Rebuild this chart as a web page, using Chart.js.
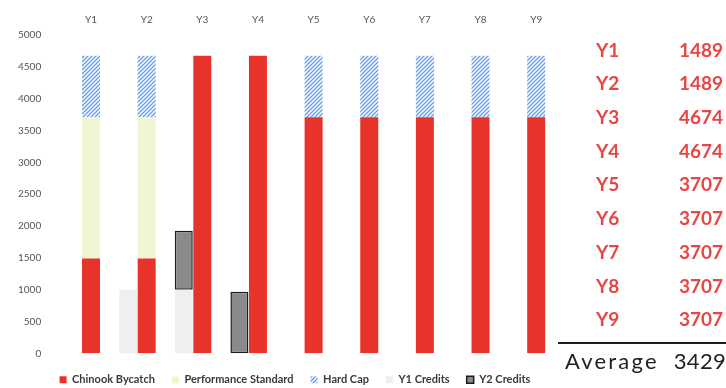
<!DOCTYPE html>
<html>
<head>
<meta charset="utf-8">
<script src="https://cdn.jsdelivr.net/npm/chart.js@4/dist/chart.umd.min.js"></script>
<style>
  html, body { margin: 0; padding: 0; background: #ffffff; }
  #wrap { width: 726px; height: 388px; position: relative; }
</style>
</head>
<body>
<div id="wrap"><canvas id="chart" width="726" height="388"></canvas></div>
<script>
// Years of the programme
const years = ['Y1', 'Y2', 'Y3', 'Y4', 'Y5', 'Y6', 'Y7', 'Y8', 'Y9'];
// Chinook bycatch per year
const bycatch = [1489, 1489, 4674, 4674, 3707, 3707, 3707, 3707, 3707];
// Room between bycatch and the performance standard
const perfStandard = [2218, 2218, null, null, null, null, null, null, null];
// Room between the performance standard and the hard cap
const hardCap = [967, 967, null, null, 967, 967, 967, 967, 967];
// Credits carried forward
const y1Credits = [null, 1000, 1000, null, null, null, null, null, null];
const y2Credits = [null, null, 925, 965, null, null, null, null, null];
// Value axis
const yMin = 0, yMax = 5000, yStep = 500;

const FONT = 'Lato, "Open Sans", sans-serif';

function hatchPattern() {
  const t = document.createElement('canvas');
  t.width = 4; t.height = 4;
  const g = t.getContext('2d');
  g.fillStyle = '#ffffff';
  g.fillRect(0, 0, 4, 4);
  g.strokeStyle = '#6e9edc';
  g.lineWidth = 1.4;
  g.beginPath();
  g.moveTo(0, 4); g.lineTo(4, 0);
  g.moveTo(-1, 1); g.lineTo(1, -1);
  g.moveTo(3, 5); g.lineTo(5, 3);
  g.stroke();
  return g.createPattern(t, 'repeat');
}
const hatch = hatchPattern();

// Keep the legend strip short so the plot reaches down to it
const legendStrip = {
  id: 'legendStrip',
  beforeUpdate(chart) {
    const lg = chart.legend;
    if (lg && !lg._stripFit) {
      const fit = lg.fit;
      lg.fit = function () { fit.call(this); this.height = 34.7; };
      lg._stripFit = true;
    }
  }
};

// Yearly bycatch table with its average, beside the plot
const yearTable = {
  id: 'yearTable',
  afterDraw(chart) {
    const ctx = chart.ctx;
    ctx.save();
    ctx.textBaseline = 'middle';
    ctx.font = 'bold 19px ' + FONT;
    ctx.fillStyle = '#e84545';
    years.forEach((y, i) => {
      const yy = 50.5 + i * 33.7;
      ctx.textAlign = 'left';
      ctx.fillText(y, 596, yy);
      ctx.textAlign = 'right';
      ctx.fillText(String(bycatch[i]), 723, yy);
    });
    ctx.strokeStyle = '#1e1e1e';
    ctx.lineWidth = 2;
    ctx.beginPath();
    ctx.moveTo(558, 343);
    ctx.lineTo(726, 343);
    ctx.stroke();
    const avg = Math.round(bycatch.reduce((a, b) => a + b, 0) / bycatch.length);
    ctx.fillStyle = '#222222';
    ctx.font = '22px ' + FONT;
    ctx.textBaseline = 'alphabetic';
    ctx.textAlign = 'left';
    if ('letterSpacing' in ctx) ctx.letterSpacing = '2.2px';
    ctx.fillText('Average', 565, 369);
    if ('letterSpacing' in ctx) ctx.letterSpacing = '0.3px';
    ctx.textAlign = 'right';
    ctx.fillText(String(avg), 726, 369);
    ctx.restore();
  }
};

const barOpts = { barPercentage: 0.97, categoryPercentage: 1.0, borderWidth: 0 };

new Chart(document.getElementById('chart'), {
  type: 'bar',
  data: {
    labels: years,
    datasets: [
      Object.assign({ label: 'Chinook Bycatch', data: bycatch, backgroundColor: '#e8332b', stack: 'main', order: 1 }, barOpts),
      Object.assign({ label: 'Performance Standard', data: perfStandard, backgroundColor: '#f0f6d2', stack: 'main', order: 1 }, barOpts),
      Object.assign({ label: 'Hard Cap', data: hardCap, backgroundColor: hatch, stack: 'main', order: 1 }, barOpts),
      Object.assign({ label: 'Y1 Credits', data: y1Credits, backgroundColor: '#efefef', stack: 'credit', order: 0 }, barOpts),
      Object.assign({ label: 'Y2 Credits', data: y2Credits, backgroundColor: '#8a8a8a', stack: 'credit', order: 0 }, barOpts,
        { borderWidth: 1.5, borderColor: '#1c1c1c', borderSkipped: false }),
      Object.assign({ label: '', data: years.map(() => null), backgroundColor: 'rgba(0,0,0,0)', stack: 'spare', order: 1 }, barOpts)
    ]
  },
  options: {
    responsive: false,
    animation: false,
    layout: { padding: { left: 0, right: 136, top: 0, bottom: 0 } },
    plugins: {
      tooltip: { enabled: false },
      legend: {
        position: 'bottom',
        title: { display: true, text: '', padding: 0, font: { size: 4, lineHeight: 1 } },
        labels: {
          font: { family: FONT, size: 11, weight: 'bold' },
          color: '#3a3a3a',
          boxWidth: 7,
          boxHeight: 7,
          padding: 17,
          filter: (item) => item.text !== '',
          sort: (a, b) => a.datasetIndex - b.datasetIndex
        }
      }
    },
    scales: {
      x: {
        position: 'top',
        stacked: true,
        grid: { display: false, drawTicks: false },
        border: { display: false },
        ticks: { font: { family: FONT, size: 10 }, color: '#555555', padding: 9 },
        afterFit(s) { s.height = 35; }
      },
      y: {
        stacked: true,
        min: yMin,
        max: yMax,
        grid: { display: false, drawTicks: false },
        border: { display: false },
        ticks: {
          stepSize: yStep,
          font: { family: FONT, size: 10 },
          color: '#555555',
          padding: 22,
          callback: (v) => String(v)
        },
        afterFit(s) { s.width = 63.2; }
      },
      side: {
        type: 'linear',
        position: 'right',
        grid: { display: false, drawTicks: false },
        border: { display: false },
        ticks: { display: false },
        afterFit(s) { s.width = 26; }
      }
    }
  },
  plugins: [legendStrip, yearTable]
});
</script>
</body>
</html>
